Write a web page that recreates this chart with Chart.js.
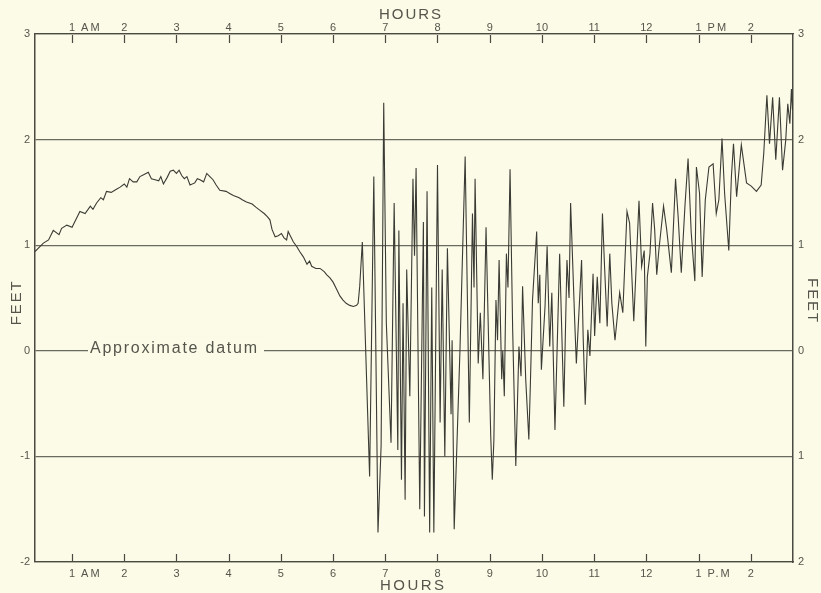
<!DOCTYPE html>
<html><head><meta charset="utf-8">
<script src="https://cdn.jsdelivr.net/npm/chart.js@4.4.1/dist/chart.umd.min.js"></script>
<style>html,body{margin:0;padding:0;background:#fbfbe7;overflow:hidden;}</style>
</head><body>
<canvas id="c" width="821" height="593"></canvas>
<script>
// ---- data (hours after midnight, water level in feet) ----
const hours = [
0.29,0.45,0.55,0.64,0.75,0.80,0.90,1.00,1.05,1.15,1.25,1.35,1.40,1.47,1.55,1.60,1.66,1.75,1.85,1.92,2.00,2.05,2.10,2.17,2.24,2.30,2.38,2.46,2.52,2.59,2.66,2.70,2.75,2.82,2.88,2.94,3.00,3.05,3.10,3.15,3.20,3.26,3.35,3.40,3.45,3.52,3.58,3.64,3.70,3.76,3.83,3.95,4.02,4.09,4.20,4.26,4.34,4.45,4.52,4.60,4.68,4.74,4.79,4.83,4.89,4.95,5.01,5.06,5.11,5.14,5.17,5.24,5.30,5.36,5.43,5.50,5.55,5.59,5.67,5.75,5.83,5.88,5.94,6.00,6.07,6.13,6.19,6.25,6.32,6.39,6.45,6.48,6.51,6.56,
6.70,6.78,6.86,6.92,6.97,7.02,7.11,7.17,7.24,7.26,7.31,7.34,7.38,7.41,7.47,7.53,7.56,7.59,7.66,7.73,7.75,7.80,7.85,7.89,7.93,8.00,8.05,8.09,8.14,8.19,8.26,8.28,8.32,8.43,8.53,
8.61,8.67,8.70,8.72,8.78,8.82,8.87,8.93,9.02,9.05,9.08,9.12,9.15,9.18,9.23,9.25,9.28,9.32,9.35,9.39,9.44,9.50,9.56,9.60,9.63,9.69,9.75,9.78,9.82,9.90,9.93,9.96,9.99,10.06,10.10,10.15,10.19,10.25,10.34,10.42,10.48,10.52,10.55,10.63,10.66,
10.76,10.79,10.83,10.88,10.92,10.98,11.01,11.06,11.11,11.16,11.20,11.25,11.30,11.34,11.40,11.49,11.55,11.63,11.68,11.76,11.86,11.91,11.96,11.99,12.02,12.07,12.12,12.16,12.20,12.24,12.33,12.39,12.48,12.56,12.61,12.67,12.74,12.80,12.86,12.93,12.96,
13.02,13.07,13.13,13.20,13.28,13.34,13.39,13.45,13.50,13.58,13.63,13.67,13.73,13.82,13.92,14.01,14.11,14.20,14.25,14.31,14.36,14.42,14.48,14.55,14.61,14.67,14.71,14.75,14.78,14.80
];
const feet = [
0.94,1.02,1.05,1.14,1.10,1.16,1.19,1.17,1.22,1.32,1.30,1.37,1.34,1.40,1.45,1.43,1.51,1.50,1.53,1.55,1.58,1.55,1.63,1.60,1.60,1.65,1.67,1.69,1.63,1.62,1.61,1.65,1.58,1.64,1.70,1.71,1.68,1.71,1.66,1.63,1.65,1.57,1.59,1.63,1.62,1.60,1.68,1.65,1.62,1.57,1.52,1.51,1.49,1.47,1.45,1.43,1.41,1.39,1.36,1.33,1.30,1.27,1.24,1.15,1.08,1.09,1.11,1.07,1.05,1.13,1.10,1.03,0.99,0.94,0.89,0.82,0.85,0.80,0.78,0.78,0.75,0.72,0.69,0.65,0.58,0.52,0.48,0.45,0.43,0.42,0.43,0.45,0.61,1.03,
-1.19,1.65,-1.72,-0.90,2.35,0.26,-0.87,1.40,-0.94,1.14,-1.22,0.45,-1.41,0.77,-0.43,1.63,0.90,1.73,-1.50,1.22,-1.57,1.51,-1.72,0.60,-1.72,1.76,-0.68,0.77,-1.00,0.97,-0.60,0.10,-1.69,0.00,1.84,
-0.68,1.30,0.60,1.63,-0.12,0.36,-0.27,1.17,-0.81,-1.22,-0.85,0.48,0.10,0.86,-0.27,0.00,-0.43,0.92,0.60,1.72,0.20,-1.09,0.04,-0.24,0.61,-0.27,-0.84,-0.30,0.48,1.13,0.45,0.72,-0.18,0.42,0.99,0.04,0.55,-0.75,0.92,-0.53,0.86,0.50,1.40,0.26,-0.12,
0.86,0.14,-0.51,0.20,-0.05,0.73,0.14,0.70,0.26,1.30,0.80,0.23,0.92,0.45,0.10,0.55,0.36,1.32,1.21,0.28,1.42,0.80,0.95,0.04,0.70,0.92,1.40,1.15,0.72,0.95,1.37,1.15,0.74,1.63,1.27,0.74,1.37,1.82,1.12,0.66,1.74,
1.49,0.70,1.43,1.74,1.77,1.30,1.43,2.01,1.49,0.95,1.65,1.96,1.46,1.95,1.59,1.56,1.51,1.57,1.87,2.42,1.96,2.40,1.81,2.40,1.71,1.99,2.34,2.15,2.48,2.28
];
const tickHours = [1,2,3,4,5,6,7,8,9,10,11,12,13,14];
const topTickLabels = ['1 AM','2','3','4','5','6','7','8','9','10','11','12','1 PM','2'];
const bottomTickLabels = ['1 AM','2','3','4','5','6','7','8','9','10','11','12','1 P.M','2'];
const yTickValues = [-2,-1,0,1,2,3];
const leftYLabels = ['-2','-1','0','1','2','3'];
const rightYLabels = ['2','1','0','1','2','3'];
const xTitle = 'HOURS';
const yTitle = 'FEET';
const datumLabel = 'Approximate datum';

const BG = '#fbfbe7';
const INK = '#4a4a42';
const TXT = '#55554c';

function spacedText(ctx, text, x, y, targetW, align) {
  ctx.save();
  ctx.letterSpacing = '0px';
  const w0 = ctx.measureText(text).width;
  const n = text.length;
  let sp = n > 1 ? (targetW - w0) / (n - 1) : 0;
  if (sp < 0) sp = 0;
  ctx.letterSpacing = sp + 'px';
  const w = w0 + sp * (n - 1);
  let sx = x;
  if (align === 'center') sx = x - w / 2;
  else if (align === 'right') sx = x - w;
  ctx.textAlign = 'left';
  ctx.fillText(text, sx, y);
  ctx.restore();
}

const decor = {
  id: 'decor',
  beforeDraw(chart) {
    const ctx = chart.ctx;
    ctx.save();
    ctx.fillStyle = BG;
    ctx.fillRect(0, 0, chart.width, chart.height);
    ctx.restore();
  },
  afterDraw(chart) {
    const ctx = chart.ctx;
    const a = chart.chartArea;
    const xs = chart.scales.x;
    const ys = chart.scales.y;
    ctx.save();
    // inward tick marks on top and bottom axes
    ctx.strokeStyle = INK;
    ctx.lineWidth = 1.2;
    tickHours.forEach(h => {
      const px = Math.round(xs.getPixelForValue(h)) + 0.5;
      ctx.beginPath();
      ctx.moveTo(px, a.top + 1); ctx.lineTo(px, a.top + 9);
      ctx.moveTo(px, a.bottom - 1); ctx.lineTo(px, a.bottom - 8);
      ctx.stroke();
    });
    // tick labels
    ctx.fillStyle = TXT;
    ctx.font = '11px "Liberation Sans", Arial, sans-serif';
    ctx.textBaseline = 'alphabetic';
    const drawLbl = (lbl, px, y) => {
      const i = lbl.indexOf(' ');
      if (i < 0) { ctx.textAlign = 'center'; ctx.fillText(lbl, px, y); return; }
      const head = lbl.slice(0, i), tail = lbl.slice(i + 1);
      ctx.textAlign = 'center'; ctx.fillText(head, px, y);
      const hw = ctx.measureText(head).width;
      ctx.save(); ctx.letterSpacing = '2px'; ctx.textAlign = 'left';
      ctx.fillText(tail, px + hw / 2 + 6, y); ctx.restore();
    };
    tickHours.forEach((h, k) => {
      const px = xs.getPixelForValue(h);
      drawLbl(topTickLabels[k], px, a.top - 3);
      drawLbl(bottomTickLabels[k], px, a.bottom + 15);
    });
    // axis titles
    ctx.font = '15px "Liberation Sans", Arial, sans-serif';
    const cx = (a.left + a.right) / 2;
    spacedText(ctx, xTitle, cx - 4, a.top - 15, 62, 'center');
    spacedText(ctx, xTitle, cx - 2, a.bottom + 28, 64, 'center');
    ctx.save();
    ctx.translate(21, ys.getPixelForValue(0.45));
    ctx.rotate(-Math.PI / 2);
    spacedText(ctx, yTitle, 0, 0, 44, 'center');
    ctx.restore();
    ctx.save();
    ctx.translate(808, ys.getPixelForValue(0.48));
    ctx.rotate(Math.PI / 2);
    spacedText(ctx, yTitle, 0, 0, 44, 'center');
    ctx.restore();
    // datum label, interrupting the zero line
    const y0 = ys.getPixelForValue(0);
    ctx.fillStyle = BG;
    ctx.fillRect(a.left + 53, y0 - 14, 176, 17);
    ctx.fillStyle = TXT;
    ctx.font = '16px "Liberation Sans", Arial, sans-serif';
    spacedText(ctx, datumLabel, a.left + 55, y0 + 2, 167, 'left');
    ctx.restore();
  }
};

new Chart(document.getElementById('c'), {
  type: 'line',
  data: {
    datasets: [{
      data: hours.map((h, i) => ({ x: h, y: feet[i] })),
      borderColor: '#3b3b35',
      borderWidth: 1.1,
      pointRadius: 0,
      tension: 0,
      fill: false,
      xAxisID: 'x',
      yAxisID: 'y'
    }]
  },
  options: {
    responsive: false,
    devicePixelRatio: 1,
    animation: false,
    layout: { padding: 0 },
    plugins: { legend: { display: false }, tooltip: { enabled: false }, title: { display: false } },
    scales: {
      x: {
        type: 'linear', position: 'bottom', min: 0.29, max: 14.81,
        grid: { display: false },
        border: { display: true, color: INK, width: 1.3 },
        ticks: { display: false },
        afterBuildTicks: s => { s.ticks = tickHours.map(v => ({ value: v })); },
        afterFit: s => { s.height = 31; }
      },
      x2: {
        type: 'linear', position: 'top', min: 0.29, max: 14.81,
        grid: { display: false },
        border: { display: true, color: INK, width: 1.3 },
        ticks: { display: false },
        afterFit: s => { s.height = 34; }
      },
      y: {
        type: 'linear', position: 'left', min: -2, max: 3,
        afterBuildTicks: s => { s.ticks = yTickValues.map(v => ({ value: v })); },
        grid: { color: '#6a6a60', lineWidth: 1.2, drawTicks: false },
        border: { display: true, color: INK, width: 1.5 },
        ticks: {
          padding: 5, color: TXT,
          font: { family: '"Liberation Sans", Arial, sans-serif', size: 11 },
          callback: (v) => leftYLabels[yTickValues.indexOf(v)]
        },
        afterFit: s => { s.width = 35; }
      },
      y2: {
        type: 'linear', position: 'right', min: -2, max: 3,
        afterBuildTicks: s => { s.ticks = yTickValues.map(v => ({ value: v })); },
        grid: { display: false, drawTicks: false },
        border: { display: true, color: INK, width: 1.5 },
        ticks: {
          padding: 5, color: TXT,
          font: { family: '"Liberation Sans", Arial, sans-serif', size: 11 },
          callback: (v) => rightYLabels[yTickValues.indexOf(v)]
        },
        afterFit: s => { s.width = 28; }
      }
    }
  },
  plugins: [decor]
});
</script>
</body></html>
